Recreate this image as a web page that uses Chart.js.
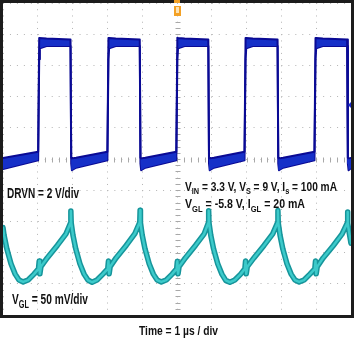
<!DOCTYPE html>
<html><head><meta charset="utf-8">
<script src="https://cdn.jsdelivr.net/npm/chart.js@4.4.1/dist/chart.umd.min.js"></script>
<style>html,body{margin:0;padding:0;background:#fff;}canvas{display:block;}</style>
</head><body>
<canvas id="c" width="355" height="338"></canvas>
<script>
// Horizontal: time in µs (1 µs / div), vertical: screen divisions (0..10)
const xDivs = [0,1,2,3,4,5,6,7,8,9,10];
const yDivs = [0,1,2,3,4,5,6,7,8,9,10];

// DRVN trace (2 V/div) – upper and lower edge of the noisy band
const drvnT  = [0.00,1.01,1.04,1.06,1.25,1.94,1.96,1.98,2.10,
                3.00,3.03,3.05,3.24,3.93,3.95,3.97,4.09,
                4.98,5.01,5.03,5.22,5.90,5.92,5.94,6.06,
                6.94,6.97,6.99,7.18,7.89,7.91,7.93,8.05,
                8.95,8.98,9.00,9.19,9.89,9.91,9.93,10.00];
const drvnHi = [5.03,5.23,8.88,8.88,8.86,8.83,5.04,5.02,5.04,
                5.23,8.88,8.88,8.86,8.83,5.04,5.02,5.04,
                5.23,8.89,8.88,8.86,8.83,5.04,5.02,5.04,
                5.23,8.88,8.88,8.86,8.83,5.04,5.02,5.04,
                5.23,8.88,8.88,8.86,8.83,5.04,5.02,5.03];
const drvnLo = [4.68,4.96,8.20,8.55,8.62,8.62,4.85,4.64,4.72,
                4.96,8.20,8.55,8.62,8.62,4.85,4.64,4.72,
                4.96,8.20,8.55,8.62,8.62,4.85,4.64,4.72,
                4.96,8.20,8.55,8.62,8.62,4.85,4.64,4.72,
                4.96,8.20,8.55,8.62,8.62,4.85,4.64,4.70];

// VGL ripple trace (50 mV/div)
const vglT = [0.00,0.03,0.11,0.23,0.35,0.46,0.58,0.72,0.89,1.02,1.04,1.06,1.09,1.27,1.56,1.81,1.94,1.95,1.96,
              2.01,2.09,2.21,2.33,2.44,2.56,2.70,2.87,3.01,3.03,3.05,3.08,3.25,3.54,3.79,3.93,3.94,3.95,
              4.00,4.08,4.20,4.32,4.43,4.55,4.69,4.86,4.99,5.01,5.03,5.06,5.24,5.53,5.78,5.90,5.91,5.92,
              5.97,6.05,6.17,6.29,6.40,6.52,6.66,6.83,6.95,6.97,6.99,7.02,7.21,7.50,7.75,7.89,7.90,7.91,
              7.96,8.04,8.16,8.28,8.39,8.51,8.65,8.82,8.96,8.98,9.00,9.03,9.20,9.49,9.74,9.89,9.90,9.91,
              9.96,10.00];
const vglV = [2.80,2.56,2.12,1.64,1.31,1.12,1.06,1.12,1.31,1.48,1.73,1.32,1.55,1.83,2.23,2.60,2.95,3.33,2.95,
              2.56,2.12,1.64,1.31,1.12,1.05,1.12,1.31,1.48,1.73,1.32,1.55,1.83,2.23,2.61,2.97,3.36,2.96,
              2.56,2.12,1.64,1.31,1.12,1.06,1.12,1.31,1.48,1.72,1.32,1.55,1.83,2.23,2.60,2.95,3.34,2.95,
              2.56,2.12,1.64,1.31,1.11,1.05,1.12,1.31,1.48,1.73,1.32,1.55,1.83,2.23,2.60,2.96,3.35,2.95,
              2.56,2.12,1.64,1.31,1.12,1.06,1.12,1.31,1.48,1.73,1.32,1.55,1.83,2.22,2.59,2.94,3.30,2.94,
              2.56,2.30];

// Annotation texts: arrays of [text, isSubscript]
const lblDrvn = [["DRVN = 2 V/div",0]];
const lblVgl  = [["V",0],["GL",1],[" = 50 mV/div",0]];
const lblCond1 = [["V",0],["IN",1],[" = 3.3 V, V",0],["S",1],[" = 9 V, I",0],["s",1],[" = 100 mA",0]];
const lblCond2 = [["V",0],["GL",1],[" = -5.8 V, I",0],["GL",1],[" = 20 mA",0]];
const lblTime = [["Time = 1 \u00b5s / div",0]];

const zip = (xs, ys) => xs.map((x,i)=>({x:x, y:ys[i]}));

function drawRich(ctx, parts, x, y, width, size){
  const fam = '"Liberation Sans", Arial, sans-serif';
  const main = 'bold ' + size + 'px ' + fam;
  const sub = 'bold ' + Math.round(size*0.7) + 'px ' + fam;
  let w = 0;
  for (const p of parts){ ctx.font = p[1]?sub:main; w += ctx.measureText(p[0]).width; }
  const sx = width / w;
  ctx.save();
  ctx.translate(x, y); ctx.scale(sx, 1);
  ctx.fillStyle = '#111'; ctx.textBaseline = 'alphabetic'; ctx.textAlign = 'left';
  let cx = 0;
  for (const p of parts){
    ctx.font = p[1]?sub:main;
    ctx.fillText(p[0], cx, p[1] ? size*0.28 : 0);
    cx += ctx.measureText(p[0]).width;
  }
  ctx.restore();
}

const scopePlugin = {
  id: 'scope',
  beforeDatasetsDraw(chart){
    const {ctx, chartArea:a, scales:{x, y}} = chart;
    ctx.save();
    ctx.strokeStyle = '#a8a8a8'; ctx.lineWidth = 1;
    const cx = Math.round(x.getPixelForValue(5)) + 0.5;
    const cy = Math.round(y.getPixelForValue(5)) + 0.5;
    ctx.beginPath();
    for (let i = 1; i < 50; i++){
      const py = Math.round(y.getPixelForValue(i*0.2)) + 0.5;
      ctx.moveTo(cx-2, py); ctx.lineTo(cx+3, py);
      const px = Math.round(x.getPixelForValue(i*0.2)) + 0.5;
      ctx.moveTo(px, cy-2); ctx.lineTo(px, cy+3);
    }
    ctx.stroke();
    ctx.restore();
  },
  afterDraw(chart){
    const {ctx, chartArea:a, scales:{x, y}} = chart;
    ctx.save();
    // frame
    ctx.strokeStyle = '#1c1c1c'; ctx.lineWidth = 3;
    ctx.strokeRect(a.left-1.5, a.top-1.5, a.right-a.left+3, a.bottom-a.top+3);
    // trigger position marker
    const tx = x.getPixelForValue(5);
    ctx.fillStyle = '#f3a126';
    ctx.fillRect(tx-3, 0, 6, 3);
    ctx.fillRect(tx-3, a.top+3, 7, 10);
    ctx.fillStyle = '#fde3b5';
    ctx.fillRect(tx-1, a.top+4, 3, 6);
    // trigger level marker
    const ty = y.getPixelForValue(6.73);
    ctx.fillStyle = '#1a2ad0';
    ctx.beginPath(); ctx.moveTo(a.right, ty-3); ctx.lineTo(a.right-3, ty); ctx.lineTo(a.right, ty+3); ctx.fill();
    ctx.restore();
    // texts
    drawRich(ctx, lblDrvn, 7, 198, 72, 15);
    drawRich(ctx, lblVgl, 12, 304, 76, 14);
    drawRich(ctx, lblCond1, 185, 190.5, 152, 12.5);
    drawRich(ctx, lblCond2, 185, 208, 120, 12.5);
    drawRich(ctx, lblTime, 139, 334.5, 79, 12);
  }
};

const lineBase = {pointRadius:0, tension:0, borderJoinStyle:'round', borderCapStyle:'round'};

new Chart(document.getElementById('c'), {
  type: 'line',
  data: {
    datasets: [
      Object.assign({}, lineBase, {label:'DRVN hi', data: zip(drvnT, drvnHi), borderColor:'#0a0a94', borderWidth:2, backgroundColor:'#1630c8', fill:'+1', order:2}),
      Object.assign({}, lineBase, {label:'DRVN lo', data: zip(drvnT, drvnLo), borderColor:'#0a0a94', borderWidth:2, fill:false, order:3}),
      Object.assign({}, lineBase, {label:'VGL edge', data: zip(vglT, vglV), borderColor:'#16959b', borderWidth:5.5, fill:false, order:1}),
      Object.assign({}, lineBase, {label:'VGL', data: zip(vglT, vglV), borderColor:'#3ccaca', borderWidth:2.5, fill:false, order:0})
    ]
  },
  options: {
    responsive:false, animation:false, devicePixelRatio:1,
    layout:{padding:{left:3, right:4, top:3, bottom:23}},
    plugins:{legend:{display:false}, tooltip:{enabled:false}},
    scales:{
      x:{type:'linear', min:xDivs[0], max:xDivs[xDivs.length-1],
         ticks:{display:false, stepSize:1}, grid:{color:'#b4b4b4', lineWidth:1, drawTicks:false},
         border:{display:false, dash:[1,5.24]}},
      y:{type:'linear', min:yDivs[0], max:yDivs[yDivs.length-1],
         ticks:{display:false, stepSize:1}, grid:{color:'#b4b4b4', lineWidth:1, drawTicks:false},
         border:{display:false, dash:[1,5.96]}}
    }
  },
  plugins:[scopePlugin]
});
</script>
</body></html>
